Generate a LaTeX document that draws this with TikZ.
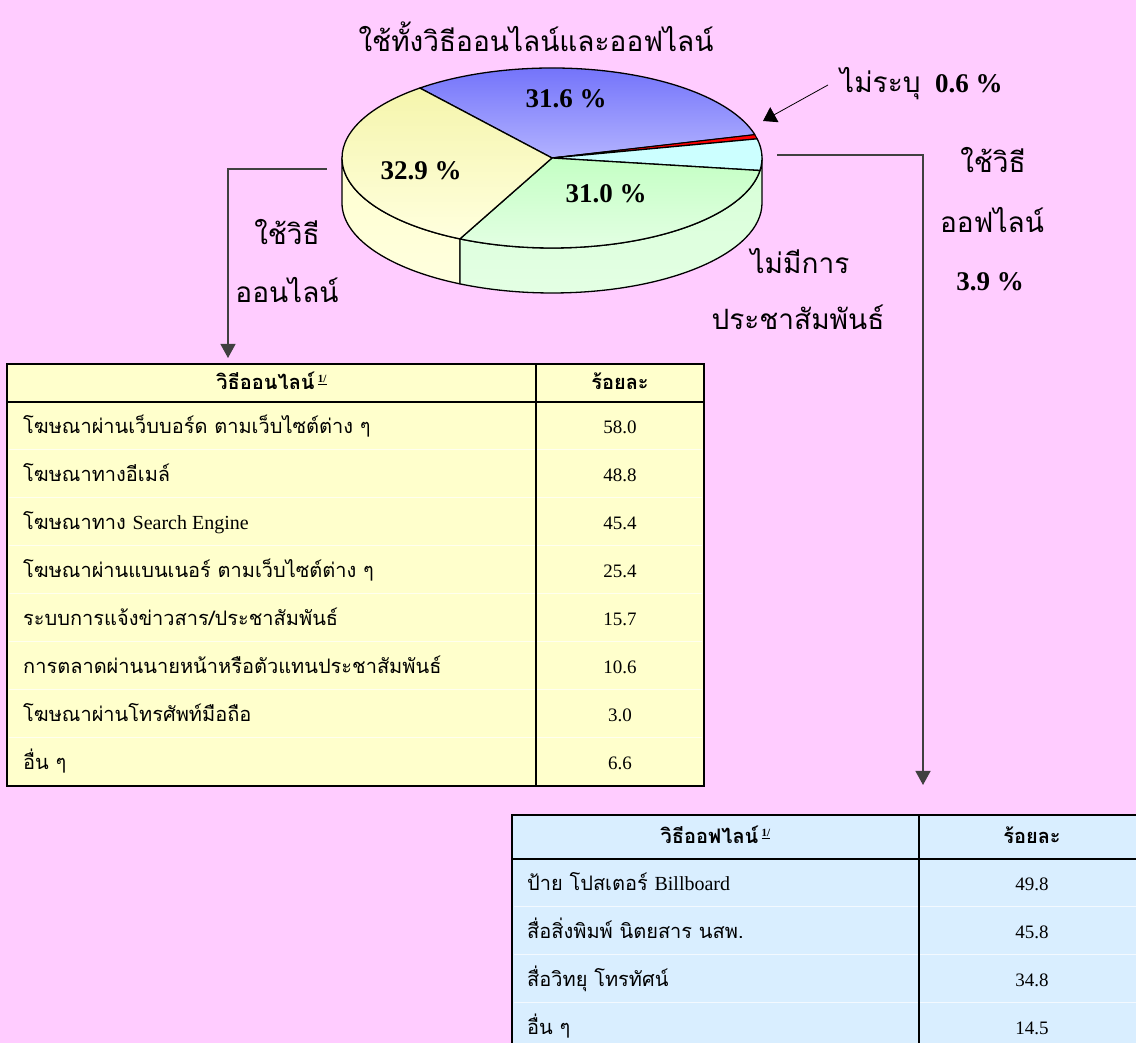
\documentclass[tikz,border=0pt]{standalone}
\usepackage{fontspec}
\setmainfont{Liberation Serif}
\newfontfamily\thaifont[Script=Thai]{Loma}
\usetikzlibrary{arrows.meta}
\definecolor{bgpink}{HTML}{FFCCFF}
\definecolor{tbla}{HTML}{FFFFCC}
\definecolor{tblb}{HTML}{D9EEFF}
\definecolor{connc}{HTML}{404040}
\definecolor{blueA}{RGB}{112,112,250}
\definecolor{blueB}{RGB}{178,178,255}
\definecolor{yelA}{RGB}{245,245,172}
\definecolor{yelB}{RGB}{255,255,222}
\definecolor{grnA}{RGB}{196,255,196}
\definecolor{grnB}{RGB}{228,255,228}
\definecolor{cyanS}{RGB}{204,255,255}
\definecolor{yelW}{RGB}{255,255,208}
\definecolor{grnW}{RGB}{214,255,214}
\newcommand{\supfoot}{\raisebox{7pt}{\fontsize{11}{11}\selectfont\rmfamily\underline{1/}}}
\begin{document}
\begin{tikzpicture}[x=1pt,y=1pt,
  bigthai/.style={inner sep=0pt, font=\fontsize{28}{32}\selectfont\thaifont},
  pct/.style={inner sep=0pt, font=\fontsize{27}{30}\selectfont\bfseries},
  cellthai/.style={inner sep=0pt, anchor=base west, font=\fontsize{20}{24}\selectfont\thaifont},
  cellnum/.style={inner sep=0pt, anchor=base, font=\fontsize{19}{22}\selectfont},
  cellhead/.style={inner sep=0pt, anchor=base, font=\fontsize{20}{24}\selectfont\thaifont\bfseries},
  pieline/.style={draw=black, line width=1.3pt, line join=round},
  conn/.style={draw=connc, line width=1.3pt, -{Triangle[width=15pt,length=14pt]}},
  leader/.style={draw=black, line width=0.8pt, -{Triangle[width=17pt,length=13pt]}},
  border/.style={draw=black, line width=2.5pt},
  sepline/.style={draw=white, line width=1pt, opacity=0.7}]
\clip (0,0) rectangle (1136,1043);
\fill[bgpink] (0,0) rectangle (1136,1043);

% ---------- pie ----------
\begin{scope}[shift={(552,885)}]
  % walls
  \path[pieline, top color=yelW, bottom color=yelB]
    (-180:210 and 90) arc[start angle=-180, end angle=-116, x radius=210, y radius=90]
    -- ++(0,-45) arc[start angle=-116, end angle=-180, x radius=210, y radius=90] -- cycle;
  \path[pieline, top color=grnW, bottom color=grnB]
    (-116:210 and 90) arc[start angle=-116, end angle=0, x radius=210, y radius=90]
    -- ++(0,-45) arc[start angle=0, end angle=-116, x radius=210, y radius=90] -- cycle;
  % top slices
  \path[pieline, top color=blueA, bottom color=blueB]
    (0,0) -- (129:210 and 90) arc[start angle=129, end angle=15, x radius=210, y radius=90] -- cycle;
  \path[pieline, fill=red, line width=1pt]
    (0,0) -- (15:210 and 90) arc[start angle=15, end angle=12.3, x radius=210, y radius=90] -- cycle;
  \path[pieline, fill=cyanS]
    (0,0) -- (12.3:210 and 90) arc[start angle=12.3, end angle=-8, x radius=210, y radius=90] -- cycle;
  \path[pieline, top color=grnA, bottom color=grnB]
    (0,0) -- (-8:210 and 90) arc[start angle=-8, end angle=-116, x radius=210, y radius=90] -- cycle;
  \path[pieline, top color=yelA, bottom color=yelB]
    (0,0) -- (-116:210 and 90) arc[start angle=-116, end angle=-231, x radius=210, y radius=90] -- cycle;
\end{scope}

% ---------- pie labels ----------
\node[bigthai, anchor=base] (title) at (536,991) {ใช้ทั้งวิธีออนไลน์และออฟไลน์};
\node[pct, anchor=base] (pBoth) at (566,935) {31.6 \%};
\node[pct, anchor=base] (pOn) at (421,863) {32.9 \%};
\node[pct, anchor=base] (pNone) at (606,840) {31.0 \%};
\node[bigthai, anchor=base west] (unspec) at (840,950) {ไม่ระบุ};
\node[pct, anchor=base west] (unspecv) at (935,950) {0.6 \%};
\node[bigthai, anchor=base] (onA) at (287,798) {ใช้วิธี};
\node[bigthai, anchor=base] (onB) at (287,740) {ออนไลน์};
\node[bigthai, anchor=base] (offA) at (993,870) {ใช้วิธี};
\node[bigthai, anchor=base] (offB) at (992,810) {ออฟไลน์};
\node[pct, anchor=base] (offV) at (990,752) {3.9 \%};
\node[bigthai, anchor=base] (noneA) at (800,769) {ไม่มีการ};
\node[bigthai, anchor=base] (noneB) at (798,713) {ประชาสัมพันธ์};

% ---------- connectors ----------
\coordinate (leadS) at (828,958);
\coordinate (leadT) at (763,922);
\draw[leader] (leadS) -- (leadT);
\coordinate (onS) at (327,874);
\coordinate (onT) at (228,685);
\draw[conn] (onS) -| (onT);
\coordinate (offS) at (777,888);
\coordinate (offT) at (923,258);
\draw[conn] (offS) -| (offT);

% ---------- table 1 (online) ----------
\fill[tbla] (7,257) rectangle (704,679);
\foreach \yy in {593,545,497,449,401,353,305} \draw[sepline] (9,\yy) -- (702,\yy);
\draw[border] (7,257) rectangle (704,679);
\draw[border] (7,641) -- (704,641);
\draw[border] (536,257) -- (536,679);
\node[cellhead] (aH1) at (271.5,653) {วิธีออนไลน์\,\supfoot};
\node[cellhead] (aH2) at (620,653) {ร้อยละ};
\node[cellthai] (a1) at (23,609.5) {โฆษณาผ่านเว็บบอร์ด ตามเว็บไซต์ต่าง ๆ};
\node[cellthai] (a2) at (23,561.5) {โฆษณาทางอีเมล์};
\node[cellthai] (a3) at (23,513.5) {โฆษณาทาง {\rmfamily Search Engine}};
\node[cellthai] (a4) at (23,465.5) {โฆษณาผ่านแบนเนอร์ ตามเว็บไซต์ต่าง ๆ};
\node[cellthai] (a5) at (23,417.5) {ระบบการแจ้งข่าวสาร/ประชาสัมพันธ์};
\node[cellthai] (a6) at (23,369.5) {การตลาดผ่านนายหน้าหรือตัวแทนประชาสัมพันธ์};
\node[cellthai] (a7) at (23,321.5) {โฆษณาผ่านโทรศัพท์มือถือ};
\node[cellthai] (a8) at (23,273.5) {อื่น ๆ};
\node[cellnum] (v1) at (620,609.5) {58.0};
\node[cellnum] (v2) at (620,561.5) {48.8};
\node[cellnum] (v3) at (620,513.5) {45.4};
\node[cellnum] (v4) at (620,465.5) {25.4};
\node[cellnum] (v5) at (620,417.5) {15.7};
\node[cellnum] (v6) at (620,369.5) {10.6};
\node[cellnum] (v7) at (620,321.5) {3.0};
\node[cellnum] (v8) at (620,273.5) {6.6};

% ---------- table 2 (offline) ----------
\fill[tblb] (512,-30) rectangle (1170,228);
\foreach \yy in {136,88,40} \draw[sepline] (514,\yy) -- (1170,\yy);
\draw[border] (512,-30) -- (512,228) -- (1170,228);
\draw[border] (512,184) -- (1170,184);
\draw[border] (919,-30) -- (919,228);
\node[cellhead] (bH1) at (715.5,199) {วิธีออฟไลน์\,\supfoot};
\node[cellhead] (bH2) at (1032,199) {ร้อยละ};
\node[cellthai] (b1) at (527,152.5) {ป้าย โปสเตอร์ {\rmfamily Billboard}};
\node[cellthai] (b2) at (527,104.5) {สื่อสิ่งพิมพ์ นิตยสาร นสพ.};
\node[cellthai] (b3) at (527,56.5) {สื่อวิทยุ โทรทัศน์};
\node[cellthai] (b4) at (527,8.5) {อื่น ๆ};
\node[cellnum] (w1) at (1032,152.5) {49.8};
\node[cellnum] (w2) at (1032,104.5) {45.8};
\node[cellnum] (w3) at (1032,56.5) {34.8};
\node[cellnum] (w4) at (1032,8.5) {14.5};
\end{tikzpicture}
\end{document}
